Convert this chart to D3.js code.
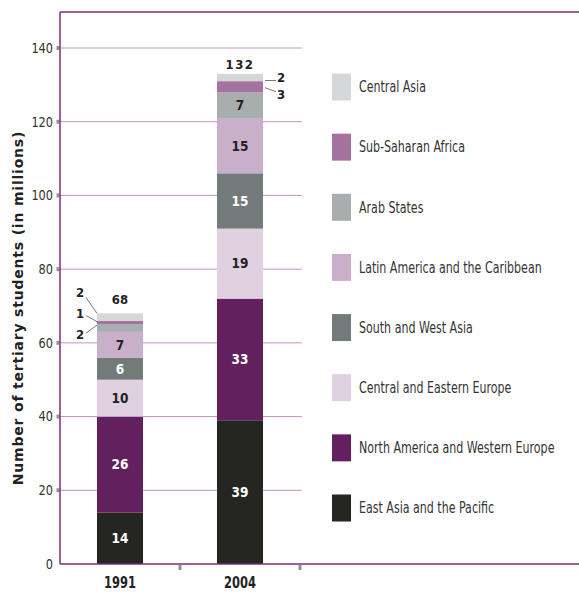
<!DOCTYPE html>
<html><head><meta charset="utf-8">
<script src="https://cdn.jsdelivr.net/npm/d3@7"></script>
<style>
html,body{margin:0;padding:0;background:#fff;}
svg{display:block;}
</style></head>
<body>
<svg id="chart" width="579" height="592"></svg>
<script>
const years = ['1991', '2004'];
const regions = ['East Asia and the Pacific', 'North America and Western Europe', 'Central and Eastern Europe', 'South and West Asia', 'Latin America and the Caribbean', 'Arab States', 'Sub-Saharan Africa', 'Central Asia'];
const values1991 = [14, 26, 10, 6, 7, 2, 1, 2];
const values2004 = [39, 33, 19, 15, 15, 7, 3, 2];
const totals = [68, 132];
const yTicks = [0, 20, 40, 60, 80, 100, 120, 140];
const colors = ['#252621', '#63205f', '#e0d1e0', '#737b7a', '#c9afc9', '#a8adae', '#a3739d', '#d5d8d8'];
const textColors = ['#fff', '#fff', '#222', '#fff', '#222', '#222', '#222', '#222'];

const svg = d3.select('#chart');
const narrow = "'DejaVu Sans Condensed',sans-serif";
const frame = '#7b2d7a';

const y = d3.scaleLinear().domain([0, 140]).range([564, 48]);
const x = d3.scaleBand().domain(years).range([60, 300]).paddingInner(0.6167).paddingOuter(0.30835);
const legendY = d3.scalePoint().domain(regions.slice().reverse()).range([87, 508]);

// gridlines
svg.append('g').selectAll('line').data(yTicks.filter(d => d > 0)).join('line')
  .attr('x1', 60).attr('x2', 302).attr('y1', d => y(d)).attr('y2', d => y(d))
  .attr('stroke', '#c194c0').attr('stroke-width', 1);

// y ticks
svg.append('g').selectAll('rect').data(yTicks.filter(d => d > 0)).join('rect')
  .attr('x', 56.5).attr('y', d => y(d) - 2).attr('width', 3).attr('height', 4).attr('fill', '#a783a6');
svg.append('g').selectAll('text').data(yTicks).join('text')
  .attr('transform', d => `translate(53,${y(d)}) scale(0.9,1)`)
  .attr('dy', '0.35em').attr('text-anchor', 'end')
  .attr('font-family', narrow).attr('font-size', 14).attr('fill', '#333').text(d => d);

// stacked data
const table = years.map((yr, i) => {
  const vals = i === 0 ? values1991 : values2004;
  const o = { year: yr };
  regions.forEach((r, j) => o[r] = vals[j]);
  return o;
});
const stack = d3.stack().keys(regions)(table);

const bars = svg.append('g');
stack.forEach((layer, j) => {
  bars.selectAll(null).data(layer).join('rect')
    .attr('x', d => x(d.data.year)).attr('width', x.bandwidth())
    .attr('y', d => y(d[1])).attr('height', d => y(d[0]) - y(d[1]))
    .attr('fill', colors[j]);
  bars.selectAll(null).data(layer.filter(d => d[1] - d[0] >= 6)).join('text')
    .attr('x', d => x(d.data.year) + x.bandwidth() / 2)
    .attr('y', d => y((d[0] + d[1]) / 2)).attr('dy', '0.36em')
    .attr('text-anchor', 'middle').attr('font-family', narrow).attr('font-weight', 'bold')
    .attr('font-size', 13.5).attr('fill', textColors[j]).text(d => d[1] - d[0]);
});

// totals
svg.append('g').selectAll('text').data(years).join('text')
  .attr('x', d => x(d) + x.bandwidth() / 2)
  .attr('y', (d, i) => y(stack[stack.length - 1][i][1]) - (i ? 5 : 9))
  .attr('text-anchor', 'middle').attr('font-family', narrow).attr('font-weight', 'bold')
  .attr('font-size', 13).attr('fill', '#222').attr('letter-spacing', (d, i) => i ? 1.5 : 0)
  .text((d, i) => totals[i]);

// callouts for small segments
const small = [];
stack.forEach((layer, j) => layer.forEach((d, i) => {
  if (d[1] - d[0] < 6) small.push({ j, i, d });
}));
const callG = svg.append('g');
small.forEach(s => {
  const mid = y((s.d[0] + s.d[1]) / 2);
  const bx = x(s.d.data.year);
  let lx1, ly1, lx2, ly2, tx, ty;
  if (s.i === 0) {
    lx2 = bx; tx = bx - 17;
    if (s.j === 7) { ty = y(s.d[1]) - 21; lx1 = bx - 11; ly1 = ty + 5; ly2 = y(s.d[1]); }
    else if (s.j === 6) { ty = mid - 9; lx1 = bx - 11; ly1 = ty + 2; ly2 = mid - 1; }
    else { ty = mid + 6; lx1 = bx - 11; ly1 = ty - 1; ly2 = mid - 3; }
  } else {
    const rx = bx + x.bandwidth() + 2;
    if (s.j === 7) { lx1 = rx; ly1 = mid + 3; lx2 = rx + 11; ly2 = mid + 3; tx = rx + 16; ty = mid; }
    else { lx1 = rx; ly1 = mid + 1; lx2 = rx + 11; ly2 = mid + 5; tx = rx + 16; ty = mid + 8; }
  }
  callG.append('line').attr('x1', lx1).attr('y1', ly1).attr('x2', lx2).attr('y2', ly2)
    .attr('stroke', '#555').attr('stroke-width', 0.8);
  callG.append('text').attr('x', tx).attr('y', ty).attr('dy', '0.36em').attr('text-anchor', 'middle')
    .attr('font-family', narrow).attr('font-weight', 'bold').attr('font-size', 13).attr('fill', '#222')
    .text(s.d[1] - s.d[0]);
});

// frame
svg.append('line').attr('x1', 60).attr('x2', 579).attr('y1', 12).attr('y2', 12).attr('stroke', frame).attr('stroke-width', 1.5);
svg.append('line').attr('x1', 60).attr('x2', 60).attr('y1', 12).attr('y2', 564).attr('stroke', frame).attr('stroke-width', 1.5);
svg.append('line').attr('x1', 60).attr('x2', 579).attr('y1', 564).attr('y2', 564).attr('stroke', frame).attr('stroke-width', 1.5);

// x ticks at band boundaries
svg.append('g').selectAll('rect').data(years).join('rect')
  .attr('x', d => x(d) - x.paddingOuter() * x.step() + x.step() - 1.5)
  .attr('y', 565).attr('width', 3).attr('height', 5).attr('fill', '#a783a6');
svg.append('g').selectAll('text').data(years).join('text')
  .attr('transform', d => `translate(${x(d) + x.bandwidth() / 2},588) scale(0.85,1)`)
  .attr('text-anchor', 'middle')
  .attr('font-family', narrow).attr('font-weight', 'bold').attr('font-size', 15).attr('fill', '#222')
  .text(d => d);

// y label
svg.append('text').attr('transform', 'translate(23,308) rotate(-90)').attr('text-anchor', 'middle')
  .attr('font-family', "'DejaVu Sans',sans-serif").attr('font-weight', 'bold').attr('font-size', 14)
  .attr('letter-spacing', 0.8)
  .attr('fill', '#222').text('Number of tertiary students (in millions)');

// legend
const lg = svg.append('g').selectAll('g').data(regions).join('g')
  .attr('transform', d => `translate(332,${legendY(d)})`);
lg.append('rect').attr('x', 0).attr('y', -13.5).attr('width', 19).attr('height', 27)
  .attr('fill', (d, i) => colors[i]);
lg.append('text').attr('transform', 'translate(27,0) scale(0.82,1)').attr('dy', '0.35em')
  .attr('font-family', narrow).attr('font-size', 15).attr('fill', '#333').text(d => d);
</script>
</body></html>
